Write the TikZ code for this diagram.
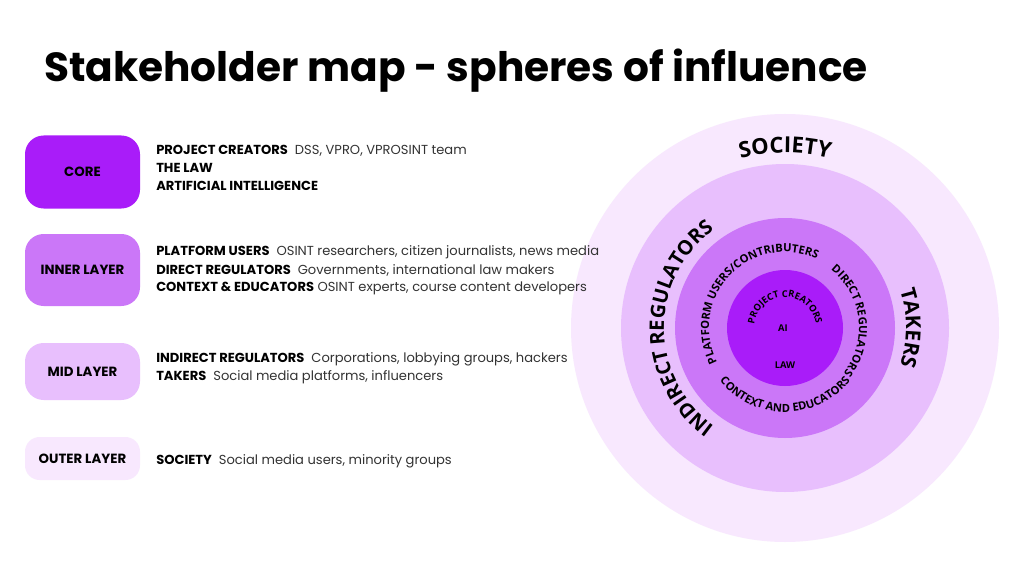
\documentclass[tikz,border=0pt]{standalone}
\usepackage{fontspec}
\setmainfont{Poppins}
\newfontfamily\ringfont{Open Sans}
\usetikzlibrary{decorations.text}
\definecolor{cA}{HTML}{A91CF9}
\definecolor{cB}{HTML}{CB77F8}
\definecolor{cC}{HTML}{E8BFFD}
\definecolor{cD}{HTML}{F8E8FE}
\definecolor{txt}{HTML}{333333}
\tikzset{
  lbox/.style={rounded corners=14pt, minimum width=86.25pt, inner sep=0pt, font=\fontsize{10}{12}\selectfont\bfseries, text=black},
  item/.style={anchor=west, inner sep=0pt, font=\fontsize{9.8}{12}\selectfont, text=txt},
  ring/.style={decorate, decoration={text along path, text align=center, text format delimiters={|}{|}, text={#1}}}
}
\begin{document}
\begin{tikzpicture}[x=0.75pt,y=0.75pt]
\useasboundingbox (0,0) rectangle (1024,576);
\fill[white] (0,0) rectangle (1024,576);
% circles
\begin{scope}[shift={(785,248)}]
\fill[cD] (0,0) circle (214);
\fill[cC] (0,0) circle (164);
\fill[cB] (0,0) circle (110);
\fill[cA] (0,0) circle (58);
\path[ring={|\fontsize{16.5}{17}\ringfont\bfseries|SOCIETY}] (140:175) arc (140:40:175);
\path[ring={|\fontsize{15}{17}\ringfont\bfseries|INDIRECT REGULATORS}] (250:121) arc (250:110:121);
\path[ring={|\fontsize{15.5}{17}\ringfont\bfseries|TAKERS}] (30:121) arc (30:-30:121);
\path[ring={|\fontsize{8.4}{10}\ringfont\bfseries|PLATFORM USERS/CONTRIBUTERS}] (210:76) arc (210:62:76);
\path[ring={|\fontsize{8.4}{10}\ringfont\bfseries|DIRECT REGULATORS}] (52:74) arc (52:-38:74);
\path[ring={|\fontsize{8.4}{10}\ringfont\bfseries|CONTEXT AND EDUCATORS}] (205:84) arc (205:335:84);
\path[ring={|\fontsize{7}{8}\ringfont\bfseries|PROJECT CREATORS}] (175:31) arc (175:5:31);
\node[font=\fontsize{7}{8}\ringfont\bfseries] (ai) at (-2,0) {AI};
\node[font=\fontsize{7}{8}\ringfont\bfseries] (law) at (0,-37) {LAW};
\end{scope}
\node[anchor=base west, inner sep=0pt, font=\fontsize{30.5}{36}\selectfont\bfseries] (title) at (44,494) {Stakeholder map - spheres of influence};
% legend boxes
\node[lbox, fill=cA, minimum height=54.75pt] (core) at (82.5,404) {CORE};
\node[lbox, fill=cB, minimum height=54pt] (inner) at (82.5,306) {INNER LAYER};
\node[lbox, fill=cC, minimum height=42.75pt] (mid) at (82.5,204.5) {MID LAYER};
\node[lbox, fill=cD, minimum height=32.25pt, rounded corners=11pt] (outer) at (82.5,117.5) {OUTER LAYER};
\node[item] (t1) at (156,425) {\textbf{\color{black}PROJECT CREATORS}\ \ DSS, VPRO, VPROSINT team};
\node[item] (t2) at (156,408) {\textbf{\color{black}THE LAW}};
\node[item] (t3) at (156,390) {\textbf{\color{black}ARTIFICIAL INTELLIGENCE}};
\node[item] (t4) at (156,324) {\textbf{\color{black}PLATFORM USERS}\ \ OSINT researchers, citizen journalists, news media};
\node[item] (t5) at (156,306) {\textbf{\color{black}DIRECT REGULATORS}\ \ Governments, international law makers};
\node[item] (t6) at (156,288) {\textbf{\color{black}CONTEXT \& EDUCATORS}\ OSINT experts, course content developers};
\node[item] (t7) at (156,217) {\textbf{\color{black}INDIRECT REGULATORS}\ \ Corporations, lobbying groups, hackers};
\node[item] (t8) at (156,199) {\textbf{\color{black}TAKERS}\ \ Social media platforms, influencers};
\node[item] (t9) at (156,115) {\textbf{\color{black}SOCIETY}\ \ Social media users, minority groups};
\end{tikzpicture}
\end{document}
